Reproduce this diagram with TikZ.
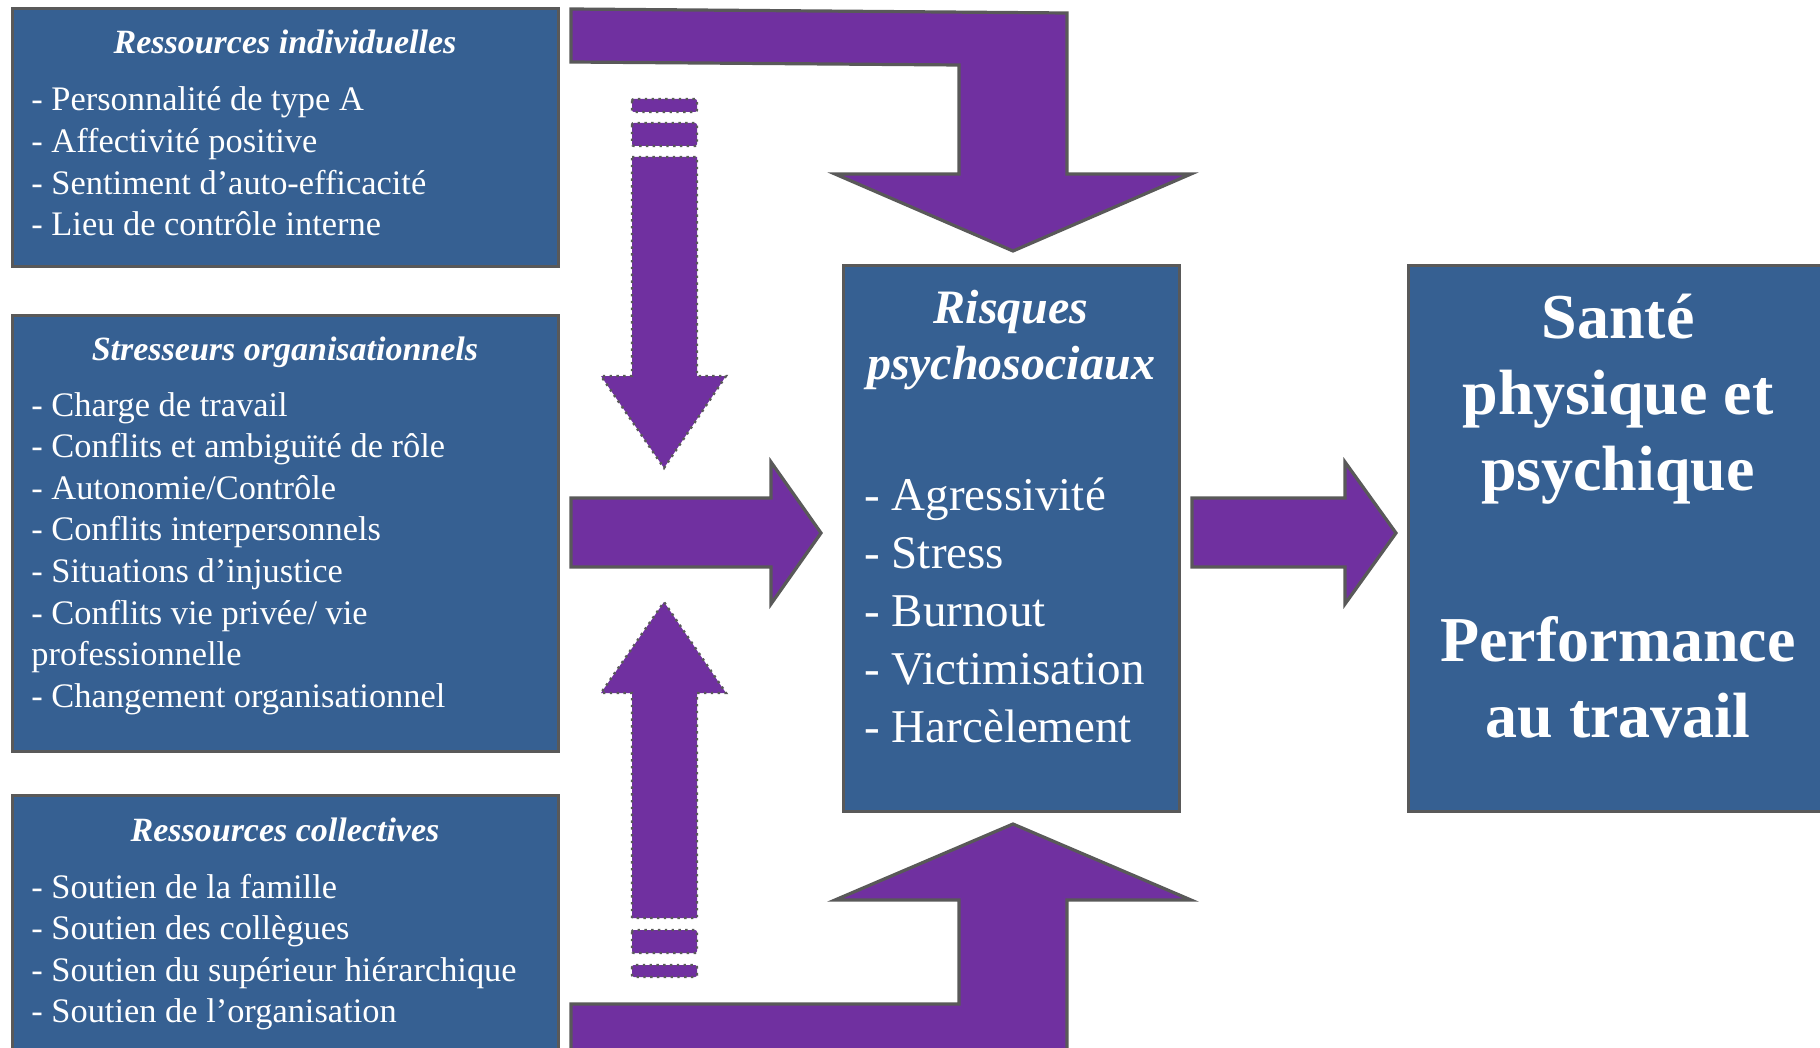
\documentclass[tikz,border=0pt]{standalone}
\usepackage{fontspec}
\setmainfont{Liberation Serif}
\definecolor{boxblue}{RGB}{54,96,146}
\definecolor{arrowpurple}{RGB}{112,48,160}
\definecolor{edgegray}{RGB}{89,89,89}
\tikzset{
  box/.style={draw=edgegray, line width=1.5pt, fill=boxblue, inner sep=0pt},
  blockarrow/.style={draw=edgegray, line width=1.6pt, fill=arrowpurple, line join=miter},
  dotarrow/.style={draw=edgegray, line width=1.2pt, fill=arrowpurple, dash pattern=on 1.2pt off 2.2pt},
  item/.style={text=white, font=\fontsize{17.2}{20.8}\selectfont, anchor=base west, inner sep=0pt},
  boxtitle/.style={text=white, font=\fontsize{17}{20}\selectfont\bfseries\itshape, anchor=base, inner sep=0pt},
  bigitem/.style={text=white, font=\fontsize{23.5}{29}\selectfont, anchor=base west, inner sep=0pt},
  bigtitle/.style={text=white, font=\fontsize{24}{28}\selectfont\bfseries\itshape, anchor=base, inner sep=0pt},
  outcome/.style={text=white, font=\fontsize{32}{38.5}\selectfont\bfseries, anchor=base, inner sep=0pt}
}
\begin{document}
\begin{tikzpicture}[x=0.5pt,y=-0.5pt]
\useasboundingbox (0,0) rectangle (1820,1048);
\clip (0,0) rectangle (1820,1048);
% boxes
\node[box, minimum width=273pt, minimum height=129pt] (indiv) at (285,138) {};
\node[box, minimum width=273pt, minimum height=218pt] (stress) at (285,533) {};
\node[box, minimum width=273pt, minimum height=132.5pt] (coll) at (285,927.5) {};
\node[box, minimum width=168pt, minimum height=272.5pt] (rps) at (1011,538.5) {};
\node[box, minimum width=211pt, minimum height=272.5pt] (sante) at (1619,538.5) {};
% left texts
\node[boxtitle] (indiv-t) at (285,54) {Ressources individuelles};
\foreach \t [count=\i] in {- Personnalité de type A, - Affectivité positive, - Sentiment d’auto-efficacité, - Lieu de contrôle interne}
  \node[item] (indiv-\i) at (31,{111+41.6*(\i-1)}) {\t};
\node[boxtitle] (stress-t) at (285,360) {Stresseurs organisationnels};
\foreach \t [count=\i] in {- Charge de travail, - Conflits et ambiguïté de rôle, - Autonomie/Contrôle, - Conflits interpersonnels, - Situations d’injustice, - Conflits vie privée/ vie, professionnelle, - Changement organisationnel}
  \node[item] (stress-\i) at (31,{416+41.6*(\i-1)}) {\t};
\node[boxtitle] (coll-t) at (285,841) {Ressources collectives};
\foreach \t [count=\i] in {- Soutien de la famille, - Soutien des collègues, - Soutien du supérieur hiérarchique, - Soutien de l’organisation}
  \node[item] (coll-\i) at (31,{898+41.5*(\i-1)}) {\t};
% centre
\node[bigtitle] (rps-t1) at (1011,323) {Risques};
\node[bigtitle] (rps-t2) at (1011,379) {psychosociaux};
\foreach \t [count=\i] in {- Agressivité, - Stress, - Burnout, - Victimisation, - Harcèlement}
  \node[bigitem] (rps-\i) at (864,{510.5+58.1*(\i-1)}) {\t};
% right
\foreach \t/\y [count=\i] in {Santé/338, physique et/414, psychique/490, Performance/661, au travail/737}
  \node[outcome] (sante-\i) at (1618,\y) {\t};
% arrows
\draw[blockarrow] (571,9) -- (1067,13) -- (1067,174) -- (1191,174) -- (1013,251) -- (835,174) -- (959,174) -- (959,65) -- (571,62) -- cycle;
\draw[blockarrow] (571,1004) -- (959,1004) -- (959,900) -- (835,900) -- (1013,824) -- (1191,900) -- (1067,900) -- (1067,1070) -- (571,1070) -- cycle;
\draw[blockarrow] (571,498) -- (771,498) -- (771,462) -- (821,533) -- (771,604) -- (771,567) -- (571,567) -- cycle;
\draw[blockarrow] (1192,498) -- (1345,498) -- (1345,462) -- (1396,533) -- (1345,604) -- (1345,567) -- (1192,567) -- cycle;
% dotted arrows
\draw[dotarrow, rounded corners=1pt] (632,99) rectangle (697,112);
\draw[dotarrow, rounded corners=1pt] (632,123) rectangle (697,146);
\draw[dotarrow] (632,157) -- (697,157) -- (697,376) -- (726,376) -- (664,468) -- (601,376) -- (632,376) -- cycle;
\draw[dotarrow] (632,918) -- (632,693) -- (601,693) -- (664,602) -- (726,693) -- (697,693) -- (697,918) -- cycle;
\draw[dotarrow, rounded corners=1pt] (632,930) rectangle (697,953);
\draw[dotarrow, rounded corners=1pt] (632,965) rectangle (697,977);
\end{tikzpicture}
\end{document}
